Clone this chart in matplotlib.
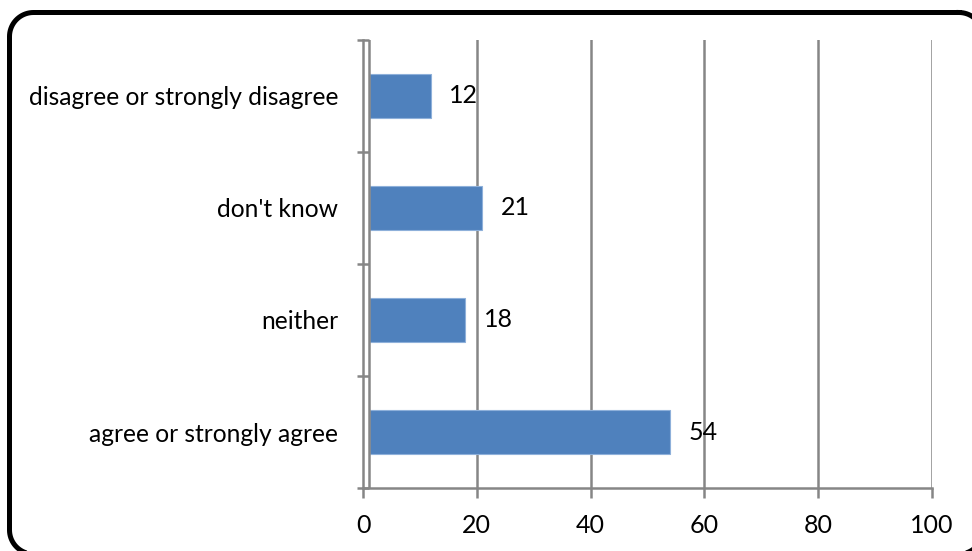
import numpy as np
import matplotlib.pyplot as plt

categories = ['agree or strongly agree', 'neither', "don't know",
              'disagree or strongly disagree']
values = [54, 18, 21, 12]
xticks = [0, 20, 40, 60, 80, 100]

plt.rcParams['font.family'] = ['Lato', 'DejaVu Sans']

W, H = 972, 551
fig = plt.figure(figsize=(W / 100, H / 100), dpi=100)
ax = fig.add_axes([363 / W, 1 - 488 / H, (932 - 363) / W, (488 - 40) / H])

# rounded frame round the whole chart, drawn on an overlay in pixel units
# (it runs off the right and bottom edges)
bg = fig.add_axes([0, 0, 1, 1], zorder=10)
bg.set_xlim(0, W)
bg.set_ylim(H, 0)
bg.axis('off')
bg.patch.set_alpha(0)
x0, y0, x1, y1, r = 9.5, 12.5, 983, 554, 24
t = np.linspace(0, np.pi / 2, 20)
corners = [(x1 - r, y0 + r, -np.pi / 2), (x1 - r, y1 - r, 0),
           (x0 + r, y1 - r, np.pi / 2), (x0 + r, y0 + r, np.pi)]
fx, fy = [], []
for cx, cy, a0 in corners:
    fx.extend(cx + r * np.cos(a0 + t))
    fy.extend(cy + r * np.sin(a0 + t))
fx.append(fx[0])
fy.append(fy[0])
bg.plot(fx, fy, color='black', linewidth=3.6, clip_on=False,
        solid_joinstyle='round')

ypos = range(len(categories))
ax.barh(ypos, values, height=0.4, color='#4F81BD', edgecolor='#8EB0DA',
        linewidth=0.8, zorder=2)
# white gap and inner line next to the value axis
ax.axvspan(0, 1.05, color='white', zorder=3)
ax.axvline(1.05, color='#868686', linewidth=1.8, zorder=4)

for y, v in zip(ypos, values):
    ax.annotate(str(v), (v, y), xytext=(13, 0), textcoords='offset points',
                va='center', ha='left', fontsize=18)

ax.set_xlim(0, 100)
ax.set_ylim(-0.5, len(categories) - 0.5)
ax.set_xticks(xticks)
ax.set_xticklabels([str(t) for t in xticks], fontsize=18)
ax.set_yticks(ypos)
ax.set_yticklabels(categories, fontsize=17.7)
ax.set_yticks([i - 0.5 for i in range(len(categories) + 1)], minor=True)

ax.grid(axis='x', color='#868686', linewidth=1.8, zorder=1)
ax.set_axisbelow(True)
ax.yaxis.set_zorder(5)
for side in ['top', 'right']:
    ax.spines[side].set_visible(False)
for side in ['left', 'bottom']:
    ax.spines[side].set_color('#868686')
    ax.spines[side].set_linewidth(1.8)
    ax.spines[side].set_zorder(5)

ax.tick_params(axis='x', length=7, width=1.8, color='#868686', pad=12)
ax.tick_params(axis='y', which='major', length=0, pad=18)
ax.tick_params(axis='y', which='minor', length=8, width=1.8,
               color='#868686', direction='inout')

fig.savefig('out.png', dpi=100)
